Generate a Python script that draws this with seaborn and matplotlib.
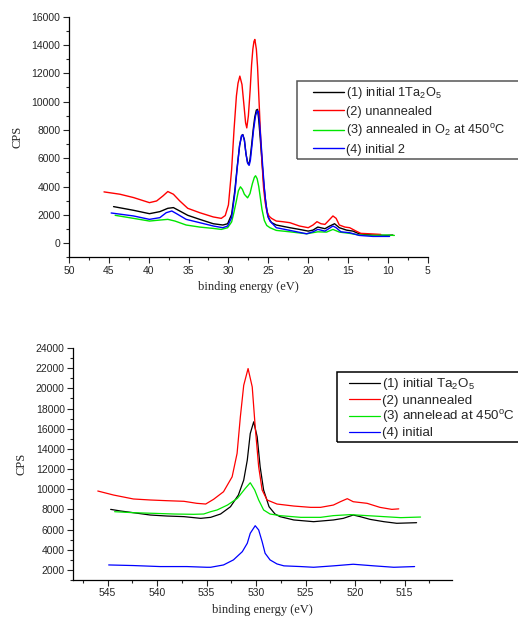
import numpy as np
import pandas as pd
import matplotlib
matplotlib.use("Agg")
import matplotlib.pyplot as plt
from matplotlib.patches import Rectangle
import seaborn as sns
from matplotlib.ticker import MultipleLocator

# ---------------- data: top panel (valence band) ----------------
top_labels = [r"(1) initial 1Ta$_2$O$_5$", "(2) unannealed",
              r"(3) annealed in O$_2$ at 450$^{\rm o}$C", "(4) initial 2"]

top1_x = [44.4, 41.9, 39.9, 38.6, 37.6, 36.9, 36.1, 35.1, 33.6, 31.9, 30.7, 30.1, 29.6, 29.2, 28.9, 28.6,
          28.35, 28.2, 28.0, 27.8, 27.6, 27.45, 27.3, 27.1, 26.9, 26.7, 26.5, 26.35, 26.2, 26.0, 25.8, 25.6,
          25.4, 25.2, 25.0, 24.6, 24.0, 22.3, 21.1, 20.0, 19.4, 18.8, 17.9, 17.3, 16.7, 16.1, 15.2, 14.4,
          13.6, 11.9, 10.2, 9.4]
top1_y = [2580, 2320, 2080, 2225, 2460, 2510, 2270, 1965, 1680, 1370, 1280, 1370, 2035, 3700, 5400, 6900,
          7600, 7670, 7300, 6300, 5700, 5540, 5900, 6900, 8000, 8900, 9400, 9450, 8700, 7300, 5800, 4400,
          3220, 2400, 1800, 1450, 1280, 1090, 970, 850, 920, 1135, 1020, 1210, 1370, 1090, 920, 850,
          660, 570, 545, 570]

top2_x = [45.6, 43.6, 41.9, 39.9, 39.0, 38.2, 37.6, 36.9, 36.1, 35.1, 33.6, 31.9, 30.9, 30.4, 30.0, 29.6,
          29.3, 29.0, 28.8, 28.57, 28.3, 28.03, 27.85, 27.7, 27.5, 27.28, 27.1, 26.94, 26.8, 26.69, 26.5, 26.35,
          26.2, 26.0, 25.8, 25.6, 25.4, 25.2, 24.9, 24.6, 24.0, 23.2, 22.3, 21.1, 20.0, 19.4, 18.9, 18.4,
          17.9, 17.3, 16.9, 16.5, 16.1, 15.4, 14.8, 14.0, 13.4, 12.3, 10.9]
top2_y = [3620, 3455, 3220, 2860, 2980, 3340, 3645, 3455, 2980, 2460, 2150, 1850, 1750, 1950, 2700, 5200,
          8000, 10400, 11300, 11800, 11200, 9600, 8500, 8140, 9000, 10800, 12600, 13700, 14250, 14390, 13700, 12450,
          10500, 7950, 5800, 3930, 2900, 2270, 1900, 1750, 1560, 1515, 1445, 1210, 1090, 1280, 1515, 1370,
          1325, 1680, 1920, 1750, 1280, 1135, 1090, 850, 690, 660, 615]

top3_x = [44.2, 41.9, 39.9, 38.6, 37.6, 36.7, 35.3, 33.6, 31.9, 30.9, 30.1, 29.6, 29.3, 29.0, 28.75, 28.5,
          28.25, 28.0, 27.6, 27.3, 27.0, 26.75, 26.6, 26.4, 26.2, 26.0, 25.8, 25.5, 25.2, 24.8, 24.0, 22.3,
          20.2, 18.8, 17.7, 16.9, 16.1, 14.8, 13.6, 11.9, 10.2, 9.2]
top3_y = [1965, 1750, 1560, 1630, 1680, 1560, 1280, 1135, 1040, 970, 1090, 1500, 2200, 3000, 3700, 3980,
          3800, 3450, 3200, 3500, 4200, 4650, 4760, 4550, 4000, 3200, 2400, 1600, 1250, 1090, 900, 800,
          660, 800, 780, 970, 780, 690, 570, 545, 570, 545]

top4_x = [44.7, 41.9, 39.9, 38.6, 37.8, 37.1, 36.5, 35.3, 33.6, 31.9, 30.7, 30.1, 29.6, 29.2, 28.9, 28.6,
          28.35, 28.2, 28.0, 27.8, 27.6, 27.4, 27.25, 27.05, 26.85, 26.6, 26.4, 26.25, 26.1, 25.9, 25.7, 25.5,
          25.3, 25.1, 24.8, 24.0, 22.3, 20.2, 19.4, 18.8, 17.9, 16.9, 16.5, 15.9, 14.8, 13.6, 11.9, 9.8]
top4_y = [2130, 1920, 1680, 1800, 2150, 2270, 2080, 1680, 1445, 1210, 1090, 1210, 1800, 3500, 5300, 6900,
          7600, 7650, 7250, 6300, 5650, 5500, 5850, 6900, 8000, 9000, 9350, 9300, 8500, 7000, 5400, 3900,
          2750, 2000, 1560, 1090, 900, 660, 800, 970, 850, 1210, 1090, 800, 735, 545, 475, 475]

# ---------------- data: bottom panel (O 1s) ----------------
bot_labels = [r"(1) initial Ta$_2$O$_5$", "(2) unannealed",
              r"(3) annelead at 450$^{\rm o}$C", "(4) initial"]

bot1_x = [544.7, 543.7, 542.4, 540.7, 539.0, 537.3, 535.6, 534.6, 533.6, 532.6, 531.8, 531.26, 530.9, 530.6,
          530.25, 529.9, 529.6, 529.25, 528.7, 528.1, 527.6, 526.2, 524.2, 522.2, 521.2, 520.2, 519.5, 518.5,
          517.1, 515.8, 513.8]
bot1_y = [8000, 7840, 7670, 7440, 7340, 7280, 7110, 7210, 7540, 8260, 9420, 10900, 12880, 15520,
          16680, 15190, 12220, 9920, 8260, 7540, 7280, 6950, 6780, 6950, 7110, 7440, 7280, 7010,
          6780, 6620, 6680]

bot2_x = [546.0, 544.4, 542.4, 540.7, 539.0, 537.3, 536.0, 535.1, 534.3, 533.3, 532.43, 531.93, 531.6, 531.26,
          530.82, 530.4, 530.1, 529.75, 529.4, 528.9, 527.9, 526.2, 524.5, 523.5, 522.2, 521.5,
          520.8, 520.2, 518.8, 517.5, 516.3, 515.6]
bot2_y = [9820, 9420, 9030, 8930, 8860, 8800, 8600, 8530, 9000, 9750, 11230, 13550, 17170, 20300,
          21960, 20140, 16180, 12220, 9920, 8930, 8530, 8330, 8200, 8200, 8430, 8760,
          9060, 8760, 8600, 8200, 8000, 8050]

bot3_x = [544.3, 542.4, 540.4, 538.3, 536.3, 535.3, 534.6, 533.95, 532.9, 531.9, 531.1, 530.6, 530.15, 529.75,
          529.25, 528.6, 527.6, 525.5, 523.5, 522.2, 520.5, 518.8, 517.1, 515.4, 513.4]
bot3_y = [7770, 7670, 7610, 7540, 7510, 7540, 7770, 7940, 8430, 9090, 10080, 10640, 9920, 8930,
          7940, 7540, 7380, 7210, 7210, 7380, 7480, 7380, 7280, 7180, 7240]

bot4_x = [544.9, 542.4, 539.7, 537.0, 535.0, 534.6, 533.3, 532.3, 531.4, 530.9, 530.6, 530.1, 529.75,
          529.4, 529.1, 528.6, 527.9, 527.2, 525.5, 524.2, 522.2, 520.2, 518.1, 516.1, 514.0]
bot4_y = [2490, 2430, 2330, 2330, 2260, 2260, 2490, 2990, 3810, 4640, 5630, 6380, 5960,
          4800, 3650, 2990, 2590, 2400, 2330, 2260, 2400, 2560, 2400, 2260, 2330]

colors = ["#000000", "#ff0000", "#00e600", "#0000ff"]

# ---------------- style ----------------
sns.set_style("ticks")
plt.rcParams["font.family"] = ["Liberation Sans", "DejaVu Sans"]
plt.rcParams["mathtext.fontset"] = "custom"
plt.rcParams["mathtext.rm"] = "Liberation Sans"
plt.rcParams["mathtext.it"] = "Liberation Sans:italic"
plt.rcParams["mathtext.bf"] = "Liberation Sans:bold"

fig = plt.figure(figsize=(5.18, 6.17), dpi=100)
ax1 = fig.add_axes([0.133, 0.583, 0.693, 0.390])
ax2 = fig.add_axes([0.141, 0.060, 0.732, 0.376])

top_series = [(top1_x, top1_y), (top2_x, top2_y), (top3_x, top3_y), (top4_x, top4_y)]
bot_series = [(bot1_x, bot1_y), (bot2_x, bot2_y), (bot3_x, bot3_y), (bot4_x, bot4_y)]

for (xs, ys), c, lab in zip(top_series, colors, top_labels):
    sns.lineplot(x=xs, y=ys, color=c, linewidth=1.0, sort=False, ax=ax1, label=lab)
for (xs, ys), c, lab in zip(bot_series, colors, bot_labels):
    sns.lineplot(x=xs, y=ys, color=c, linewidth=0.9, sort=False, ax=ax2, label=lab)

serif = ["Liberation Serif", "DejaVu Serif"]

# top axes
ax1.set_xlim(50, 5)
ax1.set_ylim(-1000, 16000)
ax1.xaxis.set_major_locator(MultipleLocator(5))
ax1.xaxis.set_minor_locator(MultipleLocator(2.5))
ax1.set_yticks(range(0, 16001, 2000))
ax1.yaxis.set_minor_locator(MultipleLocator(1000))
ax1.set_xlabel("binding energy (eV)", family=serif, fontsize=9)
ax1.set_ylabel("CPS", family=serif, fontsize=9, labelpad=6)

# bottom axes
ax2.set_xlim(548.5, 510.2)
ax2.set_ylim(1000, 24000)
ax2.xaxis.set_major_locator(MultipleLocator(5))
ax2.xaxis.set_minor_locator(MultipleLocator(2.5))
ax2.set_yticks(range(2000, 24001, 2000))
ax2.yaxis.set_minor_locator(MultipleLocator(1000))
ax2.set_xlabel("binding energy (eV)", family=serif, fontsize=9)
ax2.set_ylabel("CPS", family=serif, fontsize=9, labelpad=6)

for ax in (ax1, ax2):
    sns.despine(ax=ax)
    ax.tick_params(axis="both", which="major", labelsize=7.5, length=4, width=0.8, direction="out", pad=2)
    ax.tick_params(axis="both", which="minor", length=2.5, width=0.8, direction="out")
    for s in ("left", "bottom"):
        ax.spines[s].set_linewidth(0.9)
        ax.spines[s].set_color("black")

# legend frames (extend past the right edge of the figure, as in the original)
W, H = 518.0, 617.0
fig.patches.append(Rectangle((297 / W, (H - 159) / H), 0.6, 78 / H, transform=fig.transFigure,
                             fill=False, edgecolor="#555555", linewidth=1.1, zorder=5))
fig.patches.append(Rectangle((337 / W, (H - 442) / H), 0.6, 70 / H, transform=fig.transFigure,
                             fill=False, edgecolor="black", linewidth=1.1, zorder=5))

leg1 = ax1.legend(loc="upper left", bbox_to_anchor=(313 / W, (H - 85) / H), bbox_transform=fig.transFigure,
                  fontsize=9.2, frameon=False, handlelength=2.4, handletextpad=0.2,
                  labelspacing=0.36, borderpad=0, borderaxespad=0)
leg2 = ax2.legend(loc="upper left", bbox_to_anchor=(349 / W, (H - 376.5) / H), bbox_transform=fig.transFigure,
                  fontsize=9.6, frameon=False, handlelength=2.3, handletextpad=0.2,
                  labelspacing=0.13, borderpad=0, borderaxespad=0)

fig.savefig("out.png", dpi=100)
